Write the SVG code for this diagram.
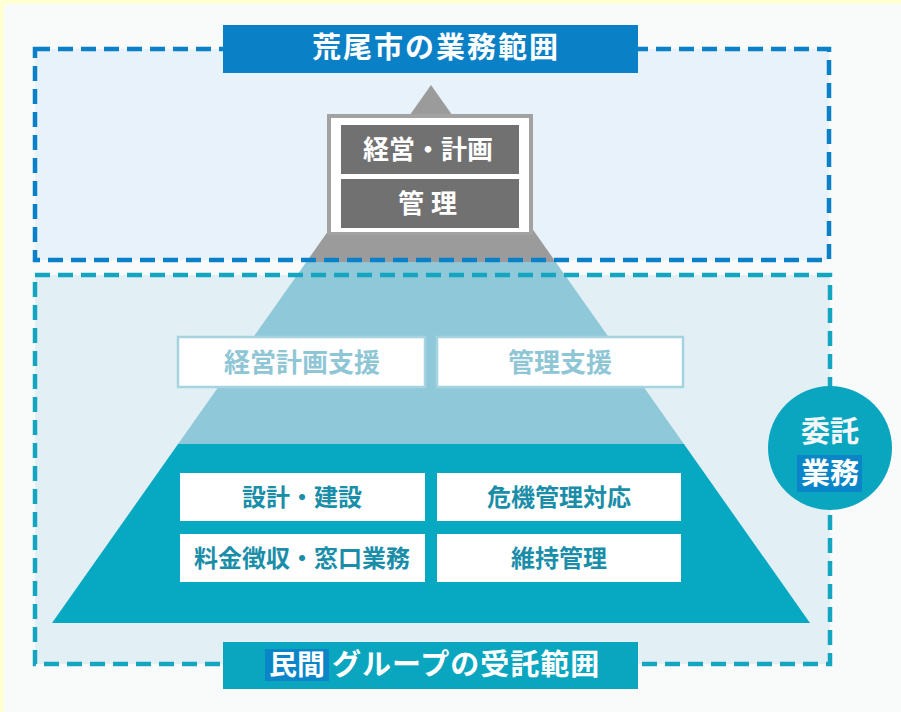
<svg xmlns="http://www.w3.org/2000/svg" width="901" height="712" viewBox="0 0 901 712">
<style>
text{font-family:"Noto Sans CJK JP","Noto Sans",sans-serif;font-weight:700;text-anchor:middle}
.wt{fill:#ffffff}
.mid{fill:#8fc6d6;font-size:26px}
.low{fill:#1a8ea8;font-size:24px}
.dashB{fill:none;stroke:#0a80c8;stroke-width:4.5;stroke-dasharray:15 8}
.dashT{fill:none;stroke:#14a6c0;stroke-width:4.5;stroke-dasharray:15 8}
.midbox{fill:#ffffff;stroke:#a6d3e0;stroke-width:2.5}
.lowbox{fill:#ffffff}
</style>
<rect x="0" y="0" width="901" height="712" fill="#f9fbfb"/>
<rect x="0" y="0" width="901" height="4" fill="#ffffd4"/>
<rect x="0" y="0" width="4" height="712" fill="#ffffd4"/>
<g id="scope-fills">
<rect x="35" y="49" width="794" height="211" fill="#e7f2fa"/>
<rect x="35" y="275" width="795" height="389" fill="#e2eff4"/>
</g>
<g id="pyramid">
<polygon points="431,85 555.7,262 306.3,262" fill="#9b9b9b"/>
<polygon points="306.3,262 555.7,262 683.9,444 178.1,444" fill="#8fc8d9"/>
<polygon points="178.1,444 683.9,444 810,623 52,623" fill="#06a8c2"/>
</g>
<g id="connectors">
<rect x="35" y="49" width="794" height="211" class="dashB"/>
<rect x="35" y="275" width="795" height="389" class="dashT"/>
</g>
<g id="top-label">
<rect x="223" y="25" width="415" height="48" fill="#0a80c6"/>
<text x="436" y="58" class="wt" font-size="29" letter-spacing="2">荒尾市の業務範囲</text>
</g>
<g id="city-tasks">
<rect x="327" y="114" width="206" height="121" fill="#a2a2a2"/>
<rect x="331" y="118" width="198" height="114" fill="#ffffff"/>
<g id="keiei-keikaku">
<rect x="341" y="125" width="178" height="49" fill="#717171"/>
<text x="428" y="159" class="wt" font-size="26">経営・計画</text>
</g>
<g id="kanri">
<rect x="341" y="179" width="178" height="49" fill="#717171"/>
<text x="431" y="213" class="wt" font-size="26" letter-spacing="7">管理</text>
</g>
</g>
<g id="keiei-keikaku-shien">
<rect x="178" y="337" width="247" height="50" class="midbox"/>
<text x="302" y="372" class="mid">経営計画支援</text>
</g>
<g id="kanri-shien">
<rect x="437" y="337" width="246" height="50" class="midbox"/>
<text x="560" y="372" class="mid">管理支援</text>
</g>
<g id="sekkei-kensetsu">
<rect x="180" y="473" width="245" height="48" class="lowbox"/>
<text x="302" y="506" class="low">設計・建設</text>
</g>
<g id="kiki-kanri">
<rect x="437" y="473" width="244" height="48" class="lowbox"/>
<text x="559" y="506" class="low">危機管理対応</text>
</g>
<g id="ryokin">
<rect x="180" y="534" width="245" height="48" class="lowbox"/>
<text x="302" y="567" class="low">料金徴収・窓口業務</text>
</g>
<g id="iji-kanri">
<rect x="437" y="534" width="244" height="48" class="lowbox"/>
<text x="559" y="567" class="low">維持管理</text>
</g>
<g id="itaku">
<circle cx="830" cy="448" r="62" fill="#0aa6c0"/>
<text x="830" y="442" fill="#f2f6f6" font-size="29">委託</text>
<rect x="797" y="455" width="65" height="37" fill="#0a86c8"/>
<text x="830" y="484" class="wt" font-size="29">業務</text>
</g>
<g id="bottom-label">
<rect x="223" y="642" width="415" height="47" fill="#0aa6c0"/>
<rect x="265" y="649" width="64" height="32" fill="#0a86c8"/>
<text x="297" y="675" class="wt" font-size="28">民間</text>
<text x="332" y="675" class="wt" font-size="29" letter-spacing="1" style="text-anchor:start">グループの受託範囲</text>
</g>
</svg>
